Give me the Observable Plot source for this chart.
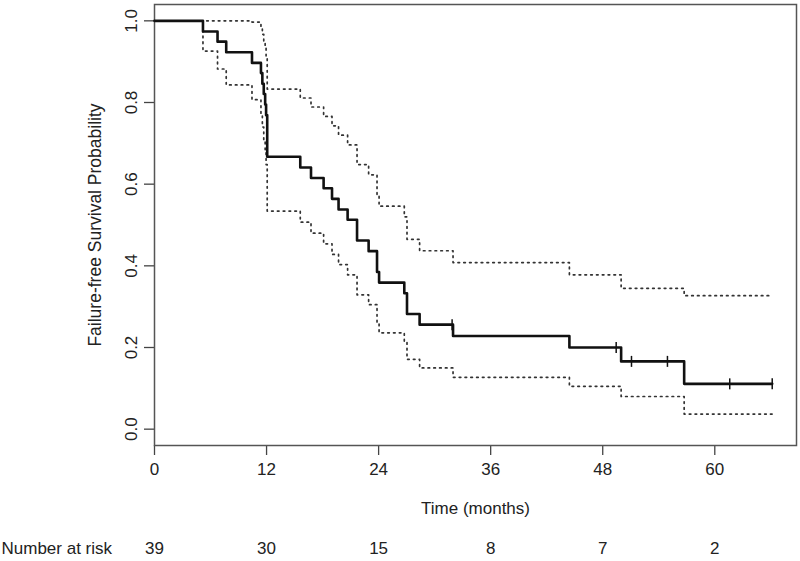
<!DOCTYPE html>
<html><head><meta charset="utf-8">
<script src="https://cdn.jsdelivr.net/npm/d3@7"></script>
<script src="https://cdn.jsdelivr.net/npm/@observablehq/plot@0.6"></script>
<style>body{margin:0;background:#fff}</style>
</head><body><div id="chart"></div>
<script>
const eventTime = [0, 5.19, 6.75, 7.68, 10.44, 11.40, 11.55, 11.70, 11.85, 11.95, 12.07, 15.61, 16.76, 18.11, 19.01, 19.71, 20.68, 21.69, 22.93, 23.83, 24.05, 26.75, 27.04, 28.39, 31.97, 44.43, 49.97, 56.72, 66.15];
const survival = [1, 0.974, 0.949, 0.923, 0.897, 0.872, 0.846, 0.821, 0.795, 0.769, 0.667, 0.641, 0.615, 0.590, 0.564, 0.538, 0.513, 0.462, 0.436, 0.385, 0.359, 0.333, 0.282, 0.256, 0.228, 0.200, 0.166, 0.111, 0.111];
const upperCI = [1, 1, 1, 1, 0.997, 0.984, 0.967, 0.950, 0.933, 0.914, 0.833, 0.811, 0.789, 0.766, 0.743, 0.720, 0.696, 0.648, 0.623, 0.572, 0.546, 0.520, 0.465, 0.437, 0.408, 0.378, 0.345, 0.327, 0.327];
const lowerCI = [1, 0.926, 0.882, 0.843, 0.807, 0.773, 0.740, 0.709, 0.678, 0.648, 0.534, 0.507, 0.480, 0.454, 0.428, 0.403, 0.378, 0.329, 0.305, 0.259, 0.236, 0.214, 0.171, 0.150, 0.127, 0.105, 0.080, 0.037, 0.037];
const censorTime = [31.87, 49.44, 51.08, 54.93, 61.6, 66.15];
const censorSurv = [0.256, 0.200, 0.166, 0.166, 0.111, 0.111];
const xTicks = [0, 12, 24, 36, 48, 60];
const yTicks = [0, 0.2, 0.4, 0.6, 0.8, 1.0];
const riskTime = [0, 12, 24, 36, 48, 60];
const riskCount = [39, 30, 15, 8, 7, 2];
const xTitle = "Time (months)";
const yTitle = "Failure-free Survival Probability";
const riskTitle = "Number at risk";

const curve = eventTime.map((t, i) => ({t, s: survival[i], up: upperCI[i], lo: lowerCI[i]}));
const censors = censorTime.map((t, i) => ({t, s: censorSurv[i]}));
const risk = riskTime.map((t, i) => ({t, n: riskCount[i]}));

const bar = {draw(ctx, size) { const r = Math.sqrt(size / Math.PI); ctx.moveTo(0, -r); ctx.lineTo(0, r); }};
const ink = "#222";

const plot = Plot.plot({
  width: 800, height: 561,
  marginLeft: 154, marginRight: 4, marginTop: 4, marginBottom: 116,
  style: {fontFamily: "'Liberation Sans', Arial, sans-serif", fontSize: "17px", color: ink, background: "#fff"},
  x: {domain: [0, 68.75], label: null},
  y: {domain: [-0.04, 1.04], label: null},
  marks: [
    Plot.axisX(xTicks, {tickSize: 10, tickPadding: 7, fontSize: 17, stroke: "#444", strokeWidth: 1.3, label: null}),
    Plot.axisY(yTicks, {tickSize: 10, text: null, stroke: "#444", strokeWidth: 1.3, label: null}),
    Plot.text(yTicks, {y: d => d, text: d => d.toFixed(1), frameAnchor: "left", dx: -23, rotate: -90, textAnchor: "middle", lineAnchor: "middle", fill: ink, fontSize: 17}),
    Plot.text([yTitle], {frameAnchor: "left", dx: -59, rotate: -90, textAnchor: "middle", lineAnchor: "middle", fill: ink, fontSize: 17.5}),
    Plot.text([xTitle], {frameAnchor: "bottom", dy: 63, lineAnchor: "middle", fill: ink, fontSize: 17}),
    Plot.text(risk, {x: "t", text: "n", frameAnchor: "bottom", dy: 103, lineAnchor: "middle", fill: ink, fontSize: 17}),
    Plot.text([riskTitle], {frameAnchor: "bottom-left", dx: -153, dy: 103, textAnchor: "start", lineAnchor: "middle", fill: ink, fontSize: 17}),
    Plot.frame({stroke: "#555", strokeWidth: 1.5}),
    Plot.line(curve, {x: "t", y: "up", curve: "step-after", stroke: "#333", strokeWidth: 1.7, strokeDasharray: "1.6,4.2"}),
    Plot.line(curve, {x: "t", y: "lo", curve: "step-after", stroke: "#333", strokeWidth: 1.7, strokeDasharray: "1.6,4.2"}),
    Plot.line(curve, {x: "t", y: "s", curve: "step-after", stroke: "#111", strokeWidth: 2.6}),
    Plot.dot(censors, {x: "t", y: "s", symbol: bar, r: 5.5, stroke: "#111", strokeWidth: 1.5, fill: "none"})
  ]
});
document.getElementById("chart").appendChild(plot);
</script>
</body></html>
